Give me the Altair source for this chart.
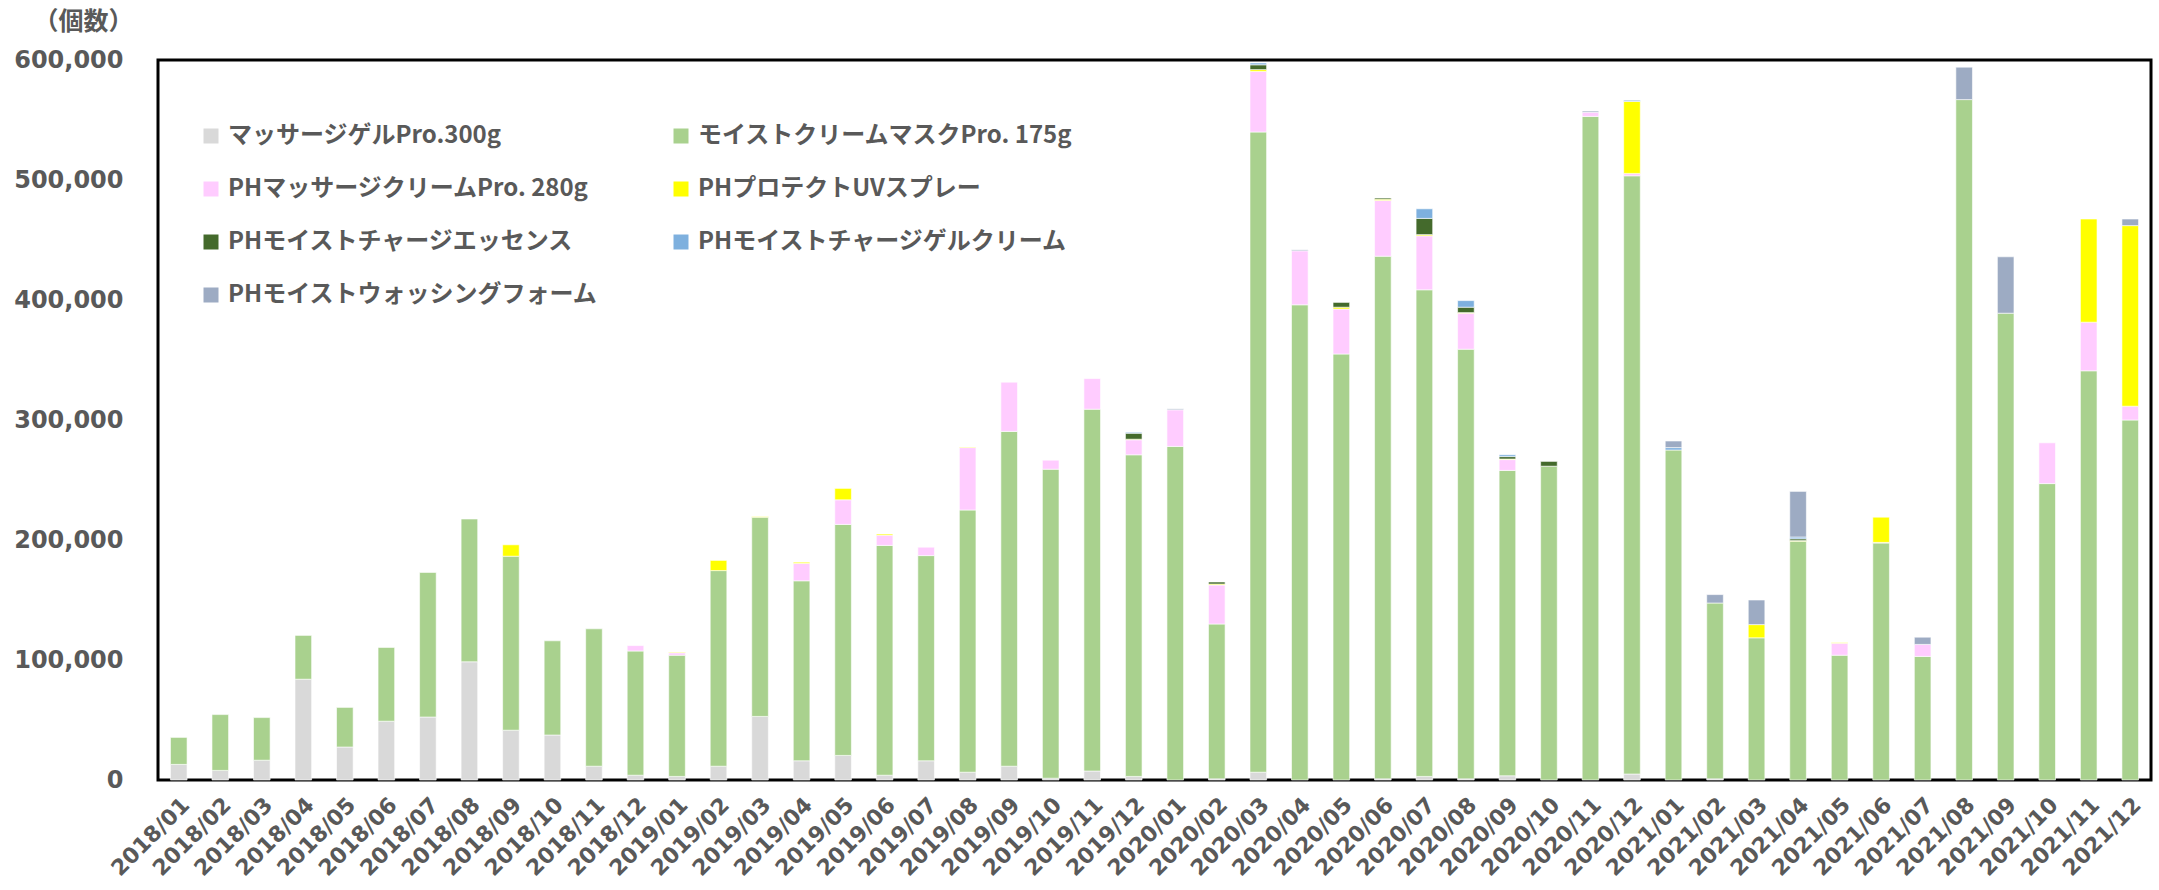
import altair as alt
import pandas as pd

months = [
    "2018/01", "2018/02", "2018/03", "2018/04", "2018/05", "2018/06",
    "2018/07", "2018/08", "2018/09", "2018/10", "2018/11", "2018/12",
    "2019/01", "2019/02", "2019/03", "2019/04", "2019/05", "2019/06",
    "2019/07", "2019/08", "2019/09", "2019/10", "2019/11", "2019/12",
    "2020/01", "2020/02", "2020/03", "2020/04", "2020/05", "2020/06",
    "2020/07", "2020/08", "2020/09", "2020/10", "2020/11", "2020/12",
    "2021/01", "2021/02", "2021/03", "2021/04", "2021/05", "2021/06",
    "2021/07", "2021/08", "2021/09", "2021/10", "2021/11", "2021/12",
]

series_names = [
    "マッサージゲルPro.300g",
    "モイストクリームマスクPro. 175g",
    "PHマッサージクリームPro. 280g",
    "PHプロテクトUVスプレー",
    "PHモイストチャージエッセンス",
    "PHモイストチャージゲルクリーム",
    "PHモイストウォッシングフォーム",
]
series_colors = ["#D9D9D9", "#A9D18E", "#FFCCFF", "#FFFF00", "#446A2C", "#7EB0DE", "#9DABC3"]

gel = [13000, 8000, 16500, 84000, 27500, 49000, 52500, 98500, 41500, 37500, 11500, 4000,
       3000, 11500, 53000, 16000, 20500, 4000, 16000, 6500, 11500, 1500, 7500, 3000,
       0, 1000, 6500, 0, 0, 1000, 3000, 1000, 3500, 0, 0, 5000,
       0, 1000, 0, 0, 0, 0, 0, 0, 0, 0, 0, 0]
mask = [22500, 46500, 35500, 36500, 33000, 61500, 120500, 119000, 145000, 78500, 114500, 103500,
        101000, 163000, 166000, 150000, 192500, 191500, 171000, 218500, 279000, 257500, 301500, 268000,
        278000, 129000, 533500, 396000, 355000, 435500, 405500, 358000, 254500, 261500, 553000, 498500,
        275000, 146500, 118500, 199000, 104000, 197500, 103000, 567000, 389000, 247000, 341000, 300000]
cream = [0, 0, 0, 0, 0, 0, 0, 0, 0, 0, 0, 4500,
         2000, 0, 0, 14500, 20500, 8500, 7000, 52000, 41000, 7500, 25500, 12500,
         30500, 32500, 50500, 45000, 37500, 46500, 45000, 30000, 9000, 0, 3500, 2000,
         0, 0, 0, 0, 10000, 500, 10000, 0, 0, 34000, 40500, 11500]
uv = [0, 0, 0, 0, 0, 0, 0, 0, 9500, 0, 0, 0,
      500, 8500, 500, 1000, 9500, 1000, 0, 500, 0, 0, 0, 500,
      0, 800, 1500, 0, 1500, 1000, 1000, 500, 500, 0, 0, 60000,
      0, 0, 11000, 500, 500, 21000, 0, 0, 0, 0, 86000, 150500]
essence = [0, 0, 0, 0, 0, 0, 0, 0, 0, 0, 0, 0,
           0, 0, 0, 0, 0, 0, 0, 0, 0, 0, 0, 5000,
           0, 1700, 4000, 0, 4000, 1000, 13500, 4500, 2000, 4000, 0, 0,
           0, 0, 0, 1500, 0, 0, 0, 0, 0, 0, 0, 0]
gelcream = [0, 0, 0, 0, 0, 0, 0, 0, 0, 0, 0, 0,
            0, 0, 0, 0, 0, 0, 0, 0, 0, 0, 0, 800,
            0, 0, 1500, 0, 0, 0, 8000, 5500, 1500, 0, 0, 1000,
            2000, 0, 0, 1500, 0, 0, 0, 0, 0, 0, 0, 0]
foam = [0, 0, 0, 0, 0, 0, 0, 0, 0, 0, 0, 0,
        0, 0, 0, 0, 0, 0, 0, 0, 0, 0, 0, 0,
        800, 0, 0, 800, 0, 0, 0, 0, 0, 0, 1000, 0,
        5500, 7000, 20500, 38000, 0, 0, 6000, 27000, 47000, 0, 0, 5500]

y_ticks = [0, 100000, 200000, 300000, 400000, 500000, 600000]

# legend laid out column by column: left column first, then right column
legend_order = [series_names[i] for i in (0, 2, 4, 6, 1, 3, 5)]

all_series = [gel, mask, cream, uv, essence, gelcream, foam]
rows = []
for si, (name, vals) in enumerate(zip(series_names, all_series)):
    for m, v in zip(months, vals):
        if v > 0:
            rows.append({"month": m, "series": name, "idx": si, "value": v})
df = pd.DataFrame(rows)

TXT = "#595959"

chart = alt.Chart(df).mark_bar(
    width=alt.RelativeBandSize(0.4), stroke="white", strokeWidth=0.6
).encode(
    x=alt.X("month:N", sort=months,
            scale=alt.Scale(domain=months, paddingInner=0, paddingOuter=0),
            axis=alt.Axis(title=None, labelAngle=-45, labelFont="DejaVu Sans",
                          labelFontWeight="bold", labelFontSize=22, labelColor=TXT,
                          ticks=False, tickSize=0, domain=False, labelPadding=14)),
    y=alt.Y("value:Q", stack="zero",
            scale=alt.Scale(domain=[0, 600000], nice=False),
            axis=alt.Axis(title="（個数）", titleAngle=0, titleX=-75, titleY=-39,
                          titleAlign="center", titleBaseline="middle",
                          titleFont="Noto Sans CJK JP", titleFontWeight="bold",
                          titleFontSize=25, titleColor=TXT,
                          values=y_ticks, format=",.0f", labelFont="DejaVu Sans",
                          labelFontWeight="bold", labelFontSize=24, labelColor=TXT,
                          ticks=False, tickSize=0, domain=False, grid=False,
                          labelPadding=35)),
    color=alt.Color("series:N",
                    scale=alt.Scale(domain=series_names, range=series_colors),
                    legend=alt.Legend(title=None, orient="none", legendX=41, legendY=64,
                                      columns=2, values=legend_order,
                                      symbolType="square", symbolSize=225,
                                      symbolStrokeWidth=0, labelFont="Noto Sans CJK JP",
                                      labelFontWeight="bold", labelFontSize=24,
                                      labelColor=TXT, labelOffset=5, labelLimit=600,
                                      rowPadding=29, columnPadding=70, padding=0)),
    order=alt.Order("idx:Q", sort="ascending"),
).properties(
    width=1993, height=720,
    padding={"left": 158, "top": 60, "right": 8, "bottom": 110},
    autosize=alt.AutoSizeParams(type="none"),
).configure(
    background="white",
    view=alt.ViewConfig(stroke="black", strokeWidth=3),
)

chart.save("out.html", embed_options={"renderer": "svg", "actions": False})
